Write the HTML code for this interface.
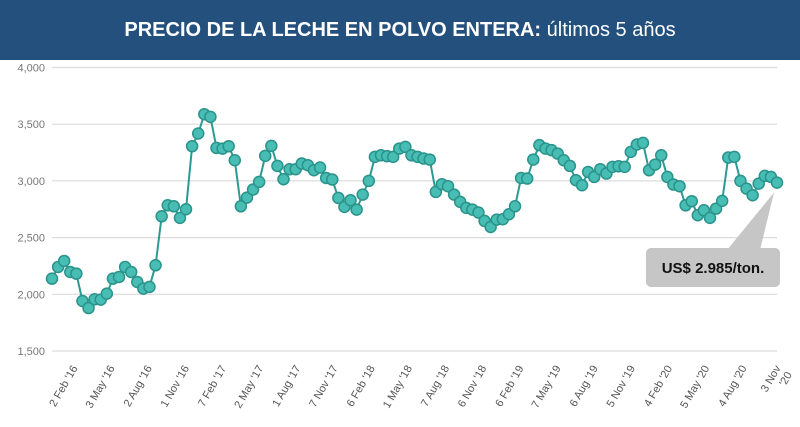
<!DOCTYPE html>
<html><head><meta charset="utf-8"><style>
body{margin:0;width:800px;height:427px;overflow:hidden;background:#fff;font-family:"Liberation Sans",sans-serif}
</style></head><body>
<div style="position:relative;width:800px;height:427px">
<div style="position:absolute;left:0;top:0;width:800px;height:60px;background:#24507e;color:#fff;text-align:center;line-height:60px;font-size:20px">
<span><b>PRECIO DE LA LECHE EN POLVO ENTERA:</b> últimos 5 años</span></div>
<svg id="chart" width="800" height="427" style="position:absolute;left:0;top:0"></svg>
</div>
<script>
const values=[2138,2241,2294,2197,2182,1941,1879,1956,1953,2006,2138,2153,2241,2197,2109,2050,2065,2256,2688,2785,2776,2674,2750,3306,3418,3588,3565,3291,3285,3306,3182,2776,2853,2924,2991,3221,3309,3132,3015,3103,3103,3153,3138,3094,3118,3026,3012,2850,2771,2829,2747,2879,3000,3212,3226,3218,3212,3285,
3300,3226,3212,3197,3188,2903,2971,2953,2879,2815,2762,2747,2721,2647,2594,2659,2662,2706,2776,3026,3021,3188,3315,3285,3271,3241,3182,3132,3006,2962,3079,3035,3103,3065,3124,3129,3124,3256,3321,3335,3094,3144,3226,3035,2968,2953,2785,2821,2697,2741,2674,2756,2824,3206,3212,3000,2932,2874,2976,3044,3035,2985];
const yTicks=[1500,2000,2500,3000,3500,4000];
const yTickLabels=["1,500","2,000","2,500","3,000","3,500","4,000"];
const xLabels=["2 Feb '16","3 May '16","2 Aug '16","1 Nov '16","7 Feb '17","2 May '17","1 Aug '17","7 Nov '17","6 Feb '18","1 May '18","7 Aug '18","6 Nov '18","6 Feb '19","7 May '19","6 Aug '19","5 Nov '19","4 Feb '20","5 May '20","4 Aug '20","3 Nov|'20"];
const calloutText="US$ 2.985/ton.";
const svg=document.getElementById('chart');const NS='http://www.w3.org/2000/svg';
const X0=52,X1=777,Y0=351,Y1=67.5;
const x=i=>X0+i*(X1-X0)/(values.length-1);
const y=v=>Y0-(v-1500)*(Y0-Y1)/2500;
function mk(t,a,p){const e=document.createElementNS(NS,t);for(const k in a)e.setAttribute(k,a[k]);(p||svg).appendChild(e);return e;}
yTicks.forEach((t,i)=>{
 const g=mk('line',{x1:X0,x2:X1,y1:y(t),y2:y(t),stroke:'#dcdcdc','stroke-width':1.2});
 
 
 const l=mk('text',{x:45,y:y(t)+4,'text-anchor':'end','font-size':11,fill:'#777'});
 l.textContent=yTickLabels[i];
 
 
});
xLabels.forEach((s,i)=>{
 const idx=Math.min(values.length-1,3.6+i*6.1);
 const px=x(idx)+4,py=368;
 const parts=s.split('|');
 const t=mk('text',{x:px,y:py,'text-anchor':'end','font-size':11,fill:'#555',transform:`rotate(-60 ${px} ${py})`});
 
 
 parts.forEach((p,j)=>{const ts=mk('tspan',{x:px,dy:j?13:0},t);ts.textContent=p;});
});
const line=mk('polyline',{points:values.map((v,i)=>x(i)+','+y(v)).join(' '),fill:'none',stroke:'#2b9a93','stroke-width':2});


values.forEach((v,i)=>{
 const c=mk('circle',{cx:x(i),cy:y(v),r:5.5,fill:'#47bdb4',stroke:'#2a938b','stroke-width':1.5});
 
 
});
const lx=x(values.length-1),ly=y(values[values.length-1]);
const tri=mk('polygon',{points:`${lx-3},${ly+10} 727,250 760,250`,fill:'#c6c6c6'});


const box=mk('rect',{x:646,y:248,width:134,height:39,rx:5,fill:'#c6c6c6'});


const ct=mk('text',{x:713,y:273,'text-anchor':'middle','font-size':15,'font-weight':'bold',fill:'#111'});
ct.textContent=calloutText;


</script>
</body></html>
